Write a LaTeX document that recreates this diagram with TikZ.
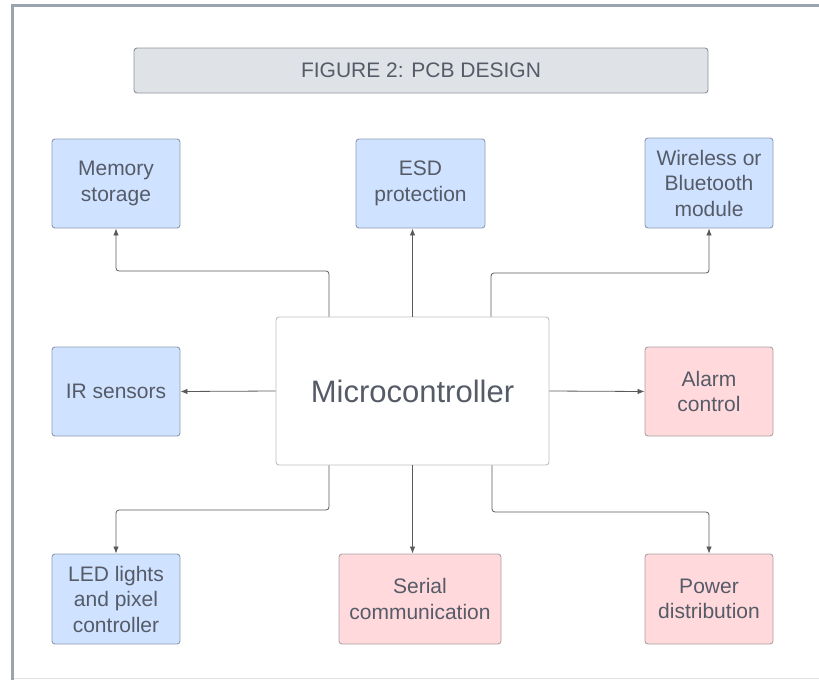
\documentclass[tikz,border=0pt]{standalone}
\usepackage{fontspec}
\setmainfont{Liberation Sans}
\usetikzlibrary{arrows.meta,calc}
\definecolor{txtgrey}{HTML}{555B67}
\definecolor{bluefill}{HTML}{CFE2FF}
\definecolor{blueline}{HTML}{8E9DB3}
\definecolor{pinkfill}{HTML}{FFD9DC}
\definecolor{pinkline}{HTML}{A9A3A6}
\definecolor{titlefill}{HTML}{DFE2E7}
\definecolor{titleline}{HTML}{8E939A}
\definecolor{frameline}{HTML}{9BA3AD}
\definecolor{wireline}{HTML}{5A5A5A}
\tikzset{
  box/.style={draw, rounded corners=3pt, line width=0.9pt, align=center, text=txtgrey,
    font=\fontsize{21}{25.5}\selectfont, inner sep=0pt},
  bluebox/.style={box, fill=bluefill, draw=blueline},
  pinkbox/.style={box, fill=pinkfill, draw=pinkline},
  wire/.style={draw=wireline, line width=0.8pt, rounded corners=3pt,
    -{Latex[length=7pt,width=5.5pt]}},
}
\begin{document}
\begin{tikzpicture}[x=1pt,y=-1pt]
\useasboundingbox (0,0) rectangle (819,680);
% frame
\draw[frameline, line width=3pt] (12.5,680) -- (12.5,5) -- (819,5);
\draw[black!12, line width=1pt] (14,678.5) -- (819,678.5);
% title
\node[box, fill=titlefill, draw=titleline, minimum width=574pt, minimum height=45pt,
  font=\fontsize{21}{24}\selectfont] (title) at (421,70.5) {FIGURE 2: PCB DESIGN};
% nodes
\node[box, fill=white, draw=black!25, minimum width=273pt, minimum height=148pt,
  font=\fontsize{31}{36}\selectfont] (mc) at (412.5,391) {Microcontroller};
\node[bluebox, minimum width=128pt, minimum height=89pt] (mem) at (116,183.5) {Memory\\storage};
\node[bluebox, minimum width=129pt, minimum height=89pt] (esd) at (420.5,183.5) {ESD\\protection};
\node[bluebox, minimum width=128pt, minimum height=90pt] (wl) at (709,183) {Wireless or\\Bluetooth\\module};
\node[bluebox, minimum width=128pt, minimum height=89pt] (ir) at (116,391.5) {IR sensors};
\node[pinkbox, minimum width=128pt, minimum height=89pt] (alarm) at (709,391.5) {Alarm\\control};
\node[bluebox, minimum width=128pt, minimum height=90pt] (led) at (116,599) {LED lights\\and pixel\\controller};
\node[pinkbox, minimum width=162pt, minimum height=90pt] (serial) at (420,599) {Serial\\communication};
\node[pinkbox, minimum width=128pt, minimum height=90pt] (power) at (709,599) {Power\\distribution};
% routing levels
\coordinate (upl) at (0,271);
\coordinate (upr) at (0,273);
\coordinate (dnl) at (0,510);
\coordinate (dnr) at (0,512);
% connectors
\draw[wire] ([xshift=-83.5pt]mc.north) |- (mem.south |- upl) -- (mem.south);
\draw[wire] (mc.north) -- (mc.north |- esd.south);
\draw[wire] ([xshift=78.5pt]mc.north) |- (wl.south |- upr) -- (wl.south);
\draw[wire] (mc.west) -- (ir.east);
\draw[wire] (mc.east) -- (alarm.west);
\draw[wire] ([xshift=-83.5pt]mc.south) |- (led.north |- dnl) -- (led.north);
\draw[wire] (mc.south) -- (mc.south |- serial.north);
\draw[wire] ([xshift=79.5pt]mc.south) |- (power.north |- dnr) -- (power.north);
\end{tikzpicture}
\end{document}
